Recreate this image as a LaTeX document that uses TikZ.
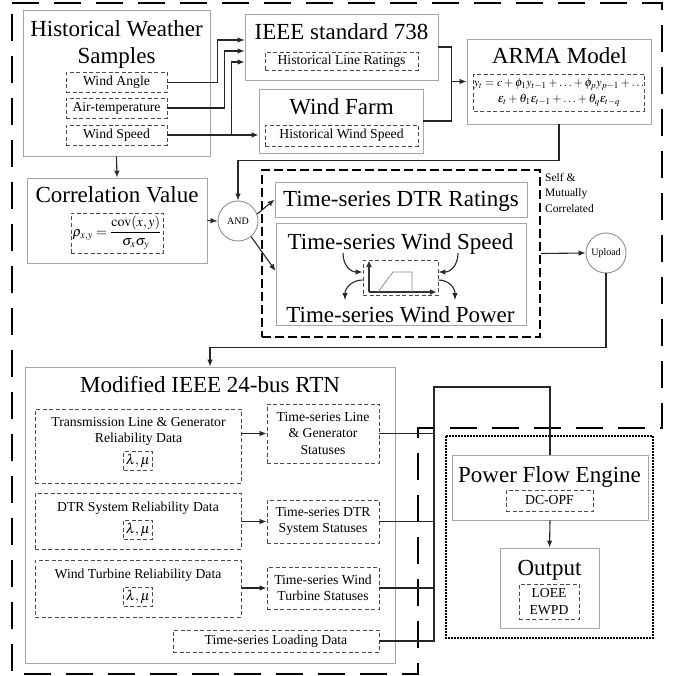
\documentclass[tikz,border=0pt]{standalone}
\usepackage{mathptmx}
\usepackage[no-math]{fontspec}
\setmainfont{Liberation Serif}
\usetikzlibrary{arrows.meta,positioning}
\tikzset{
  mainbox/.style={draw=black!35,line width=0.9pt,inner sep=0pt},
  subbox/.style={draw=black!70,dash pattern=on 4pt off 2.5pt,line width=0.9pt,inner sep=0pt,align=center,font=\fontsize{13.7}{16.5}\selectfont},
  titletxt/.style={font=\fontsize{23}{27}\selectfont,inner sep=0pt,anchor=base},
  txt/.style={font=\fontsize{13.7}{16.5}\selectfont,inner sep=0pt,align=center},
  gate/.style={circle,draw=black!45,line width=0.9pt,inner sep=0pt,font=\fontsize{10}{12}\selectfont},
  arr/.style={draw=black!85,line width=1.1pt,-{Latex[length=7pt,width=5.5pt]}},
  wire/.style={draw=black!85,line width=1.1pt},
  lampar/.style={subbox,minimum width=29pt,minimum height=19pt,font=\fontsize{14}{16}\selectfont}
}
\begin{document}
\begin{tikzpicture}[x=1pt,y=-1pt]
  \useasboundingbox (0,0) rectangle (674,676);
  % outer frame
  \draw[line width=2.5pt,dash pattern=on 27pt off 15pt] (12,3) -- (662,3) -- (662,428) -- (418,428) -- (418,674) -- (12,674) -- cycle;
  \draw[line width=1.3pt,dash pattern=on 1.6pt off 1.4pt] (446,436) rectangle (653,638);

  % weather samples
  \node[mainbox,minimum width=187pt,minimum height=146pt] (hws) at (116.5,83) {};
  \node[txt,font=\fontsize{23}{27}\selectfont] (hwst) at (116.5,44) {Historical Weather\\Samples};
  \node[subbox,minimum width=101pt,minimum height=20pt] (wa) at (116.5,82.5) {Wind Angle};
  \node[subbox,minimum width=101pt,minimum height=20pt] (airt) at (116.5,108) {Air-temperature};
  \node[subbox,minimum width=101pt,minimum height=20pt] (ws) at (116.5,135) {Wind Speed};

  % IEEE 738 and wind farm
  \node[mainbox,minimum width=193pt,minimum height=66pt] (ieee) at (341.5,47) {};
  \node[titletxt] (ieeet) at (341.5,40) {IEEE standard 738};
  \node[subbox,minimum width=153pt,minimum height=18pt] (hlr) at (341.5,61) {Historical Line Ratings};
  \node[mainbox,minimum width=164pt,minimum height=64pt] (wf) at (341,121) {};
  \node[titletxt] (wft) at (341.5,115) {Wind Farm};
  \node[subbox,minimum width=153pt,minimum height=21pt] (hwsp) at (341.5,135.5) {Historical Wind Speed};

  \draw[arr] (wa.east) -- ++(50,0) |- ([yshift=7pt]ieee.west);
  \draw[arr] (airt.east) -- ++(57,0) |- ([yshift=-4pt]ieee.west);
  \draw[arr] (ws.east) -- ++(64,0) |- ([yshift=-15pt]ieee.west);
  \draw[arr] (ws.east) -- (ws.east -| wf.west);

  % ARMA
  \node[mainbox,minimum width=184pt,minimum height=85pt] (arma) at (559,81.5) {};
  \node[titletxt] (armat) at (559.5,64) {ARMA Model};
  \node[subbox,minimum width=168pt,minimum height=37pt,font=\fontsize{12}{16.5}\selectfont] (armaf) at (559,92.5)
    {$y_t=c+\phi_1y_{t-1}+\ldots+\phi_py_{p-1}+\ldots$\\$\varepsilon_t+\theta_1\varepsilon_{t-1}+\ldots+\theta_q\varepsilon_{t-q}$};
  \draw[wire] (ieee.east) -- ++(13,0) coordinate (br) -- (br |- wf.east) -- (wf.east);
  \draw[arr] (br |- arma.west) -- (arma.west);

  % correlation
  \node[mainbox,minimum width=180pt,minimum height=85pt] (corr) at (117,220.5) {};
  \node[titletxt] (corrt) at (117,203) {Correlation Value};
  \node[subbox,minimum width=92pt,minimum height=40pt,font=\fontsize{14}{16}\selectfont] (corrf) at (117,233)
    {$\displaystyle\rho_{x,y}=\frac{\mathrm{cov}(x,y)}{\sigma_x\sigma_y}$};
  \node[gate,minimum size=40pt] (and) at (238,221) {AND};
  \draw[arr] (hws.south) -- (corr.north);
  \draw[arr] (corr.east) -- (and.west);
  \draw[arr] (arma.south) -- ++(0,36) -| (and.north);

  % time-series group
  \node[draw,line width=2pt,dash pattern=on 9pt off 4pt,minimum width=278pt,minimum height=167pt] (grp) at (401,253.5) {};
  \node[mainbox,minimum width=252pt,minimum height=35pt] (dtr) at (401,199.5) {};
  \node[titletxt] (dtrt) at (401,207) {Time-series DTR Ratings};
  \node[mainbox,minimum width=250pt,minimum height=102pt] (wpw) at (401,274) {};
  \node[titletxt] (wspd) at (400.5,249) {Time-series Wind Speed};
  \node[titletxt] (wpow) at (400.5,322) {Time-series Wind Power};
  \node[subbox,minimum width=75pt,minimum height=35pt] (curve) at (400.5,277.5) {};
  \draw[arr] (and.20) -- (dtr.west);
  \draw[arr] (and.-50) -- ([yshift=3pt]wpw.west);

  % power curve
  \draw[line width=1.6pt,black!80,-{Triangle[length=6pt,width=5pt]}] (369,292) -- (369,261);
  \draw[line width=1.6pt,black!80,-{Triangle[length=6pt,width=5pt]}] (369,292) -- (436,292);
  \draw[black!45,line width=0.8pt] (378,292) -- (393,272) -- (412,272) -- (412,292);
  \coordinate (s1) at (343,253);
  \coordinate (s2) at (458,253);
  \coordinate (p1) at (345,300);
  \coordinate (p2) at (455,300);
  \draw[arr] (s1) .. controls (343,265) and (350,272) .. ([yshift=5.5pt]curve.west);
  \draw[arr] (s2) .. controls (458,265) and (451,272) .. ([yshift=5.5pt]curve.east);
  \draw[arr] ([yshift=-2.5pt]curve.west) .. controls (352,280) and (345,288) .. (p1);
  \draw[arr] ([yshift=-2.5pt]curve.east) .. controls (449,280) and (455,288) .. (p2);

  \node[txt,font=\fontsize{11.5}{15.5}\selectfont,align=left,anchor=north west] (smc) at (545,173) {Self \&\\Mutually\\Correlated};

  % upload
  \node[gate,minimum size=40pt] (up) at (606,253) {Upload};
  \draw[arr] (grp.east) -- (up.west);

  % RTN
  \node[mainbox,minimum width=370pt,minimum height=296pt] (rtn) at (210,515) {};
  \node[titletxt] (rtnt) at (210,392) {Modified IEEE 24-bus RTN};
  \draw[arr] (up.south) -- ++(0,74) -| (rtn.north);

  \node[subbox,minimum width=206pt,minimum height=74pt] (tlg) at (138,446) {};
  \node[txt] (tlgt) at (138.5,431.5) {Transmission Line \& Generator\\Reliability Data};
  \node[lampar] (tlgp) at (138,461) {$\lambda,\mu$};
  \node[subbox,minimum width=112pt,minimum height=59pt] (tls) at (323,433.5) {Time-series Line\\\& Generator\\Statuses};
  \draw[arr] (tlg.east |- tls.west) -- (tls.west);

  \node[subbox,minimum width=206pt,minimum height=56pt] (dtrr) at (138,521) {};
  \node[txt,anchor=base] (dtrrt) at (138,511) {DTR System Reliability Data};
  \node[lampar] (dtrrp) at (138,529.5) {$\lambda,\mu$};
  \node[subbox,minimum width=112pt,minimum height=43pt] (dtrs) at (323,521.5) {Time-series DTR\\System Statuses};
  \draw[arr] (dtrr.east |- dtrs.west) -- (dtrs.west);

  \node[subbox,minimum width=206pt,minimum height=57pt] (wtr) at (138,588.5) {};
  \node[txt,anchor=base] (wtrt) at (138,578) {Wind Turbine Reliability Data};
  \node[lampar] (wtrp) at (138,596.5) {$\lambda,\mu$};
  \node[subbox,minimum width=112pt,minimum height=42pt] (wts) at (323,588) {Time-series Wind\\Turbine Statuses};
  \draw[arr] (wtr.east |- wts.west) -- (wts.west);

  \node[subbox,minimum width=206pt,minimum height=22pt] (load) at (276,641) {Time-series Loading Data};

  % power flow
  \node[mainbox,minimum width=196pt,minimum height=65pt] (pfe) at (550,487.5) {};
  \node[titletxt] (pfet) at (549.5,482) {Power Flow Engine};
  \node[subbox,minimum width=87pt,minimum height=21pt] (dcopf) at (549.5,500.5) {DC-OPF};
  \node[mainbox,minimum width=99pt,minimum height=80pt] (out) at (549.5,588) {};
  \node[titletxt] (outt) at (549.5,575) {Output};
  \node[subbox,minimum width=60pt,minimum height=35pt] (idx) at (549,601.5) {LOEE\\EWPD};
  \draw[arr] (pfe.south) -- (out.north);

  % statuses to engine
  \coordinate (bus) at (434,387);
  \draw[wire] (tls.east) -- (tls.east -| bus);
  \draw[wire] (dtrs.east) -- (dtrs.east -| bus);
  \draw[wire] (wts.east) -- (wts.east -| bus);
  \draw[wire] (load.east) -- (load.east -| bus) -- (bus) -| (pfe.north);
\end{tikzpicture}
\end{document}
